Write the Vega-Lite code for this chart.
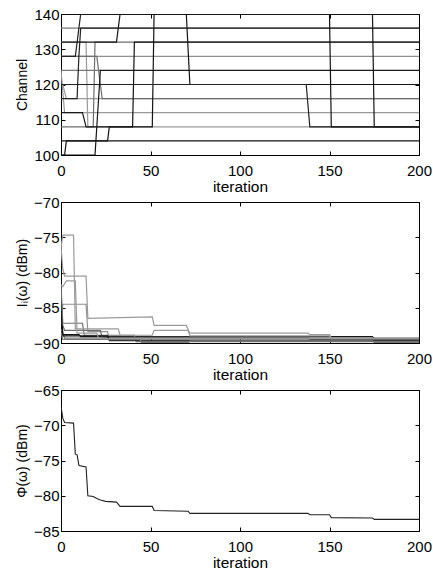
{
  "$schema": "https://vega.github.io/schema/vega-lite/v6.json",
  "background": "white",
  "padding": {"left": 15, "top": 6, "right": 5, "bottom": 0},
  "spacing": 47,
  "bounds": "flush",
  "config": {
    "font": "Liberation Sans",
    "view": {"stroke": "black", "strokeWidth": 1},
    "axis": {
      "domainColor": "black", "tickColor": "black", "tickSize": -4, "labelFontSize": 15,
      "labelColor": "black", "titleFontSize": 15, "titleFontWeight": "normal", "titleColor": "black",
      "grid": false, "labelFlush": false, "labelOverlap": false
    },
    "axisX": {"labelPadding": 12, "titlePadding": 1, "titleFontSize": 15.5},
    "axisY": {"titleFontSize": 14, "labelPadding": 6}
  },
  "datasets": {
    "chan": [
      {"node":"l1","it":0,"ch":124},{"node":"l1","it":2,"ch":112},{"node":"l1","it":200,"ch":112},
      {"node":"l2","it":0,"ch":120},{"node":"l2","it":1,"ch":120},{"node":"l2","it":3,"ch":116},{"node":"l2","it":200,"ch":116},
      {"node":"l3","it":0,"ch":132},{"node":"l3","it":14,"ch":132},{"node":"l3","it":15,"ch":108},{"node":"l3","it":200,"ch":108},
      {"node":"l4","it":0,"ch":128},{"node":"l4","it":200,"ch":128},
      {"node":"m1","it":0,"ch":128},{"node":"m1","it":20,"ch":128},{"node":"m1","it":23,"ch":116},{"node":"m1","it":200,"ch":116},
      {"node":"m2","it":0,"ch":108},{"node":"m2","it":18,"ch":108},{"node":"m2","it":19,"ch":132},{"node":"m2","it":200,"ch":132},
      {"node":"m3","it":0,"ch":136},{"node":"m3","it":200,"ch":136},
      {"node":"m5","it":0,"ch":124},{"node":"m5","it":22,"ch":124},
      {"node":"d1","it":0,"ch":100},{"node":"d1","it":2,"ch":100},{"node":"d1","it":3,"ch":104},{"node":"d1","it":200,"ch":104},
      {"node":"d2","it":0,"ch":100},{"node":"d2","it":19,"ch":100},{"node":"d2","it":20,"ch":108},{"node":"d2","it":40,"ch":108},{"node":"d2","it":41,"ch":132},{"node":"d2","it":200,"ch":132},
      {"node":"d3","it":0,"ch":104},{"node":"d3","it":26,"ch":104},{"node":"d3","it":27,"ch":108},{"node":"d3","it":51,"ch":108},{"node":"d3","it":52,"ch":140},{"node":"d3","it":150,"ch":140},{"node":"d3","it":151,"ch":108},{"node":"d3","it":200,"ch":108},
      {"node":"d4","it":0,"ch":140},{"node":"d4","it":70,"ch":140},{"node":"d4","it":72,"ch":120},{"node":"d4","it":200,"ch":120},
      {"node":"d5","it":0,"ch":140},{"node":"d5","it":174,"ch":140},{"node":"d5","it":175,"ch":108},{"node":"d5","it":200,"ch":108},
      {"node":"d6","it":0,"ch":120},{"node":"d6","it":137,"ch":120},{"node":"d6","it":139,"ch":108},{"node":"d6","it":200,"ch":108},
      {"node":"d7","it":0,"ch":128},{"node":"d7","it":8,"ch":128},{"node":"d7","it":11,"ch":140},{"node":"d7","it":200,"ch":140},
      {"node":"d8","it":0,"ch":132},{"node":"d8","it":31,"ch":132},{"node":"d8","it":33,"ch":140},{"node":"d8","it":200,"ch":140},
      {"node":"d9","it":0,"ch":116},{"node":"d9","it":9,"ch":116},{"node":"d9","it":9.3,"ch":120},{"node":"d9","it":10,"ch":128},{"node":"d9","it":11,"ch":136},{"node":"d9","it":200,"ch":136},
      {"node":"d10","it":0,"ch":112},{"node":"d10","it":12,"ch":112},{"node":"d10","it":14,"ch":108},{"node":"d10","it":20,"ch":108},{"node":"d10","it":22,"ch":124},{"node":"d10","it":200,"ch":124}
    ],
    "intf": [
      {"node":"n8","it":0,"db":-88.0},{"node":"n8","it":2,"db":-89.3},{"node":"n8","it":200,"db":-89.3},
      {"node":"n4","it":0,"db":-87.3},{"node":"n4","it":1,"db":-84.5},{"node":"n4","it":14,"db":-84.5},{"node":"n4","it":15,"db":-88.4},{"node":"n4","it":26,"db":-88.4},{"node":"n4","it":27,"db":-89.7},{"node":"n4","it":200,"db":-89.7},
      {"node":"n10","it":0,"db":-83.0},{"node":"n10","it":1,"db":-88.8},{"node":"n10","it":10,"db":-88.8},{"node":"n10","it":11,"db":-89.1},{"node":"n10","it":174,"db":-89.1},{"node":"n10","it":175,"db":-89.4},{"node":"n10","it":200,"db":-89.4},
      {"node":"n6","it":0,"db":-86.8},{"node":"n6","it":2,"db":-88.2},{"node":"n6","it":22,"db":-88.2},{"node":"n6","it":23,"db":-89.2},{"node":"n6","it":138,"db":-89.2},{"node":"n6","it":139,"db":-89.5},{"node":"n6","it":200,"db":-89.5},
      {"node":"n5","it":0,"db":-81.6},{"node":"n5","it":1,"db":-87.2},{"node":"n5","it":12,"db":-87.2},{"node":"n5","it":13,"db":-88.9},{"node":"n5","it":41,"db":-88.9},{"node":"n5","it":42,"db":-89.8},{"node":"n5","it":200,"db":-89.8},
      {"node":"n2","it":0,"db":-76.5},{"node":"n2","it":1,"db":-74.7},{"node":"n2","it":7,"db":-74.7},{"node":"n2","it":8,"db":-88.0},{"node":"n2","it":32,"db":-88.0},{"node":"n2","it":33,"db":-88.9},{"node":"n2","it":51,"db":-88.9},{"node":"n2","it":52,"db":-88.2},{"node":"n2","it":71,"db":-88.2},{"node":"n2","it":72,"db":-89.0},{"node":"n2","it":150,"db":-89.0},{"node":"n2","it":151,"db":-89.5},{"node":"n2","it":200,"db":-89.5},
      {"node":"n9","it":0,"db":-85.5},{"node":"n9","it":1,"db":-89.0},{"node":"n9","it":26,"db":-89.0},{"node":"n9","it":27,"db":-89.6},{"node":"n9","it":200,"db":-89.6},
      {"node":"n1","it":0,"db":-76.3},{"node":"n1","it":1,"db":-79.5},{"node":"n1","it":2,"db":-80.5},{"node":"n1","it":14,"db":-80.5},{"node":"n1","it":15,"db":-86.5},{"node":"n1","it":33,"db":-86.4},{"node":"n1","it":51,"db":-86.3},{"node":"n1","it":52,"db":-87.5},{"node":"n1","it":70,"db":-87.5},{"node":"n1","it":72,"db":-88.6},{"node":"n1","it":138,"db":-88.6},{"node":"n1","it":139,"db":-88.8},{"node":"n1","it":150,"db":-88.8},{"node":"n1","it":151,"db":-89.3},{"node":"n1","it":200,"db":-89.3},
      {"node":"n3","it":0,"db":-81.8},{"node":"n3","it":1,"db":-82.0},{"node":"n3","it":3,"db":-81.2},{"node":"n3","it":8,"db":-81.2},{"node":"n3","it":9,"db":-88.6},{"node":"n3","it":20,"db":-88.6},{"node":"n3","it":21,"db":-89.4},{"node":"n3","it":200,"db":-89.4},
      {"node":"n7","it":0,"db":-88.5},{"node":"n7","it":1,"db":-89.5},{"node":"n7","it":44,"db":-89.5},{"node":"n7","it":45,"db":-89.95},{"node":"n7","it":71,"db":-89.95},{"node":"n7","it":72,"db":-89.7},{"node":"n7","it":174,"db":-89.7},{"node":"n7","it":175,"db":-89.9},{"node":"n7","it":200,"db":-89.9}
    ],
    "phi": [
      {"it":0,"db":-67.3},{"it":1,"db":-69.0},{"it":2,"db":-69.6},{"it":7,"db":-69.7},{"it":8,"db":-74.1},{"it":9,"db":-74.2},
      {"it":10,"db":-75.7},{"it":14,"db":-75.9},{"it":15,"db":-80.0},{"it":18,"db":-80.1},{"it":20,"db":-80.4},{"it":22,"db":-80.6},
      {"it":25,"db":-80.8},{"it":31,"db":-80.9},{"it":33,"db":-81.5},{"it":51,"db":-81.5},{"it":52,"db":-82.1},{"it":71,"db":-82.2},
      {"it":72,"db":-82.5},{"it":138,"db":-82.5},{"it":139,"db":-82.7},{"it":150,"db":-82.7},{"it":151,"db":-83.1},{"it":174,"db":-83.15},
      {"it":175,"db":-83.35},{"it":200,"db":-83.35}
    ]
  },
  "vconcat": [
    {
      "width": 358, "height": 141,
      "data": {"name": "chan"},
      "layer": [
        {
          "mark": {"type": "line", "strokeWidth": 1.2, "clip": true},
          "encoding": {
            "x": {"field": "it", "type": "quantitative", "scale": {"domain": [0, 200], "nice": false}, "axis": {"values": [0, 50, 100, 150, 200], "title": "iteration"}},
            "y": {"field": "ch", "type": "quantitative", "scale": {"domain": [100, 140], "nice": false, "zero": false}, "axis": {"values": [100, 110, 120, 130, 140], "title": "Channel"}},
            "color": {"field": "node", "type": "nominal", "legend": null,
              "scale": {"domain": ["l1","l2","l3","l4","m1","m2","m3","m5","d1","d2","d3","d4","d5","d6","d7","d8","d9","d10"],
                        "range": ["#9a9a9a","#9a9a9a","#9a9a9a","#909090","#6e6e6e","#6e6e6e","#777777","#777777","#141414","#141414","#141414","#141414","#141414","#222222","#222222","#141414","#222222","#1a1a1a"]}}
          }
        },
        {
          "mark": {"type": "line", "opacity": 0},
          "encoding": {
            "x": {"field": "it", "type": "quantitative", "axis": {"orient": "top", "values": [0, 50, 100, 150, 200], "labels": false, "title": null}},
            "y": {"field": "ch", "type": "quantitative", "axis": {"orient": "right", "values": [100, 110, 120, 130, 140], "labels": false, "title": null}}
          }
        }
      ],
      "resolve": {"axis": {"x": "independent", "y": "independent"}}
    },
    {
      "width": 358, "height": 141,
      "data": {"name": "intf"},
      "layer": [
        {
          "mark": {"type": "line", "strokeWidth": 1.2, "clip": true},
          "encoding": {
            "x": {"field": "it", "type": "quantitative", "scale": {"domain": [0, 200], "nice": false}, "axis": {"values": [0, 50, 100, 150, 200], "title": "iteration"}},
            "y": {"field": "db", "type": "quantitative", "scale": {"domain": [-90, -70], "nice": false, "zero": false}, "axis": {"values": [-90, -85, -80, -75, -70], "title": "Iᵢ(ω) (dBm)"}},
            "color": {"field": "node", "type": "nominal", "legend": null,
              "scale": {"domain": ["n1","n2","n3","n4","n5","n6","n7","n8","n9","n10"],
                        "range": ["#333333","#444444","#222222","#7a7a7a","#555555","#6a6a6a","#1a1a1a","#8c8c8c","#3c3c3c","#7a7a7a"]}}
          }
        },
        {
          "mark": {"type": "line", "opacity": 0},
          "encoding": {
            "x": {"field": "it", "type": "quantitative", "axis": {"orient": "top", "values": [0, 50, 100, 150, 200], "labels": false, "title": null}},
            "y": {"field": "db", "type": "quantitative", "axis": {"orient": "right", "values": [-90, -85, -80, -75, -70], "labels": false, "title": null}}
          }
        }
      ],
      "resolve": {"axis": {"x": "independent", "y": "independent"}}
    },
    {
      "width": 358, "height": 141,
      "data": {"name": "phi"},
      "layer": [
        {
          "mark": {"type": "line", "strokeWidth": 1.1, "color": "#222222", "clip": true},
          "encoding": {
            "x": {"field": "it", "type": "quantitative", "scale": {"domain": [0, 200], "nice": false}, "axis": {"values": [0, 50, 100, 150, 200], "title": "iteration"}},
            "y": {"field": "db", "type": "quantitative", "scale": {"domain": [-85, -65], "nice": false, "zero": false}, "axis": {"values": [-85, -80, -75, -70, -65], "title": "Φ(ω) (dBm)"}}
          }
        },
        {
          "mark": {"type": "line", "opacity": 0},
          "encoding": {
            "x": {"field": "it", "type": "quantitative", "axis": {"orient": "top", "values": [0, 50, 100, 150, 200], "labels": false, "title": null}},
            "y": {"field": "db", "type": "quantitative", "axis": {"orient": "right", "values": [-85, -80, -75, -70, -65], "labels": false, "title": null}}
          }
        }
      ],
      "resolve": {"axis": {"x": "independent", "y": "independent"}}
    }
  ]
}
